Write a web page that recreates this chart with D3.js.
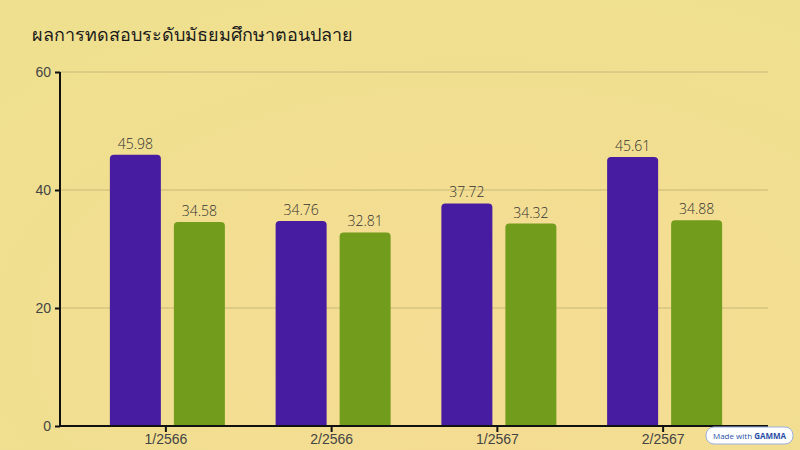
<!DOCTYPE html>
<html><head><meta charset="utf-8">
<script src="https://cdn.jsdelivr.net/npm/d3@7"></script>
<style>body{margin:0;}svg{display:block;font-family:"Open Sans","Noto Sans",sans-serif;}</style>
</head><body><div id="chart"></div>
<script>
const categories = ["1/2566", "2/2566", "1/2567", "2/2567"];
const seriesA = [45.98, 34.76, 37.72, 45.61];
const seriesB = [34.58, 32.81, 34.32, 34.88];
const yTicks = [0, 20, 40, 60];

const svg = d3.select("#chart").append("svg").attr("width", 800).attr("height", 450);
const defs = svg.append("defs");
const g = defs.append("radialGradient").attr("id", "bg").attr("cx", "0.6").attr("cy", "0.75").attr("r", "0.8");
g.append("stop").attr("offset", "0").attr("stop-color", "#f6dc94");
g.append("stop").attr("offset", "1").attr("stop-color", "#efe08f");
svg.append("rect").attr("width", 800).attr("height", 450).attr("fill", "url(#bg)");

svg.append("text").attr("x", 32).attr("y", 41).attr("font-size", 18).attr("font-weight", 500)
  .attr("fill", "#1a1a1a").text("ผลการทดสอบระดับมัธยมศึกษาตอนปลาย");

const y = d3.scaleLinear().domain([0, 60]).range([426, 72]);
const x = d3.scaleBand().domain(categories).range([83, 746]);

svg.append("g").selectAll("line").data(yTicks.slice(1)).enter().append("line")
  .attr("x1", 60).attr("x2", 768).attr("y1", d => y(d)).attr("y2", d => y(d))
  .attr("stroke", "#c8b878").attr("stroke-width", 1);

function bar(x0, w, v) {
  const r = 4, top = y(v), bot = y(0);
  return `M${x0},${bot}V${top + r}Q${x0},${top} ${x0 + r},${top}H${x0 + w - r}Q${x0 + w},${top} ${x0 + w},${top + r}V${bot}Z`;
}
const bw = 51;
[[seriesA, "#471ca0", -56], [seriesB, "#729c1c", 8]].forEach(([vals, col, off]) => {
  const gg = svg.append("g");
  categories.forEach((c, i) => {
    const cx = x(c) + x.bandwidth() / 2;
    const x0 = cx + off;
    gg.append("path").attr("d", bar(x0, bw, vals[i])).attr("fill", col);
    gg.append("text").attr("x", x0 + bw / 2).attr("y", y(vals[i]) - 6).attr("text-anchor", "middle")
      .attr("font-size", 14).attr("font-weight", 300).attr("fill", "#333").text(vals[i].toFixed(2));
  });
});

const ya = svg.append("g").attr("transform", "translate(60,0)")
  .call(d3.axisLeft(y).tickValues(yTicks).tickSize(5).tickPadding(4));
ya.select(".domain").attr("stroke", "#111").attr("stroke-width", 2).attr("d", "M0,72V426");
ya.selectAll(".tick line").attr("stroke", "#111").attr("stroke-width", 2);
ya.selectAll("text").attr("font-size", 14).attr("font-weight", 300).attr("fill", "#444");

const xa = svg.append("g").attr("transform", "translate(0,426)")
  .call(d3.axisBottom(x).tickSize(6).tickPadding(2));
xa.select(".domain").attr("stroke", "#111").attr("stroke-width", 2).attr("d", "M60,0H768");
xa.selectAll(".tick line").attr("stroke", "#111").attr("stroke-width", 2);
xa.selectAll("text").attr("font-size", 14).attr("font-weight", 300).attr("fill", "#444");

const badge = svg.append("g").attr("transform", "translate(706,427)");
badge.append("rect").attr("width", 87).attr("height", 17).attr("rx", 8).attr("fill", "#fff").attr("stroke", "#9bb0e0");
badge.append("text").attr("x", 43.5).attr("y", 12).attr("text-anchor", "middle").attr("font-size", 8)
  .attr("fill", "#2c4fa8").html('Made with <tspan font-weight="bold">GAMMA</tspan>');
</script></body></html>
